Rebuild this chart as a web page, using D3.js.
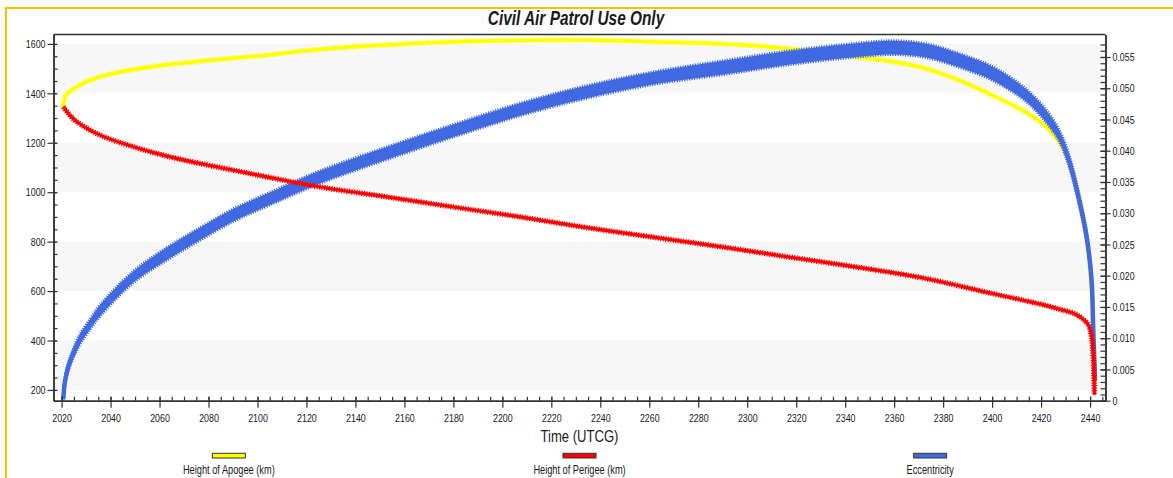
<!DOCTYPE html>
<html>
<head>
<meta charset="utf-8">
<script src="https://cdn.jsdelivr.net/npm/d3@7"></script>
<style>
  body { margin: 0; background: #fff; }
  svg { display: block; }
  text { font-family: "Liberation Sans", Arial, Helvetica, sans-serif; fill: #1a1a1a; }
</style>
</head>
<body>
<svg id="chart" width="1173" height="478"></svg>
<script>
// ---- data (time in decimal years) ----
const apogeeTime = [2020.7, 2021.4, 2024.0, 2028.8, 2030, 2040, 2060, 2080, 2100, 2125.5, 2160, 2194, 2234, 2263, 2290, 2308, 2343, 2360, 2373, 2387, 2400.5, 2414, 2422.3, 2427.7, 2431.8, 2434.5, 2437.2, 2439.3, 2440.6, 2441.3, 2441.8];
const apogeeKm   = [1345, 1385, 1413, 1440, 1447, 1478, 1512, 1533, 1551, 1578, 1600, 1612, 1616, 1608, 1600, 1589, 1550, 1527, 1500, 1451, 1390, 1322, 1263, 1197, 1116, 1021, 900, 765, 602, 440, 230];

const perigeeTime = [2020.7, 2023.5, 2026.2, 2035.7, 2049.3, 2063, 2076.6, 2090.2, 2103.8, 2125.6, 2152.8, 2180, 2207.2, 2234.4, 2263, 2290.2, 2317.5, 2344.7, 2373.3, 2400.5, 2414.1, 2422.3, 2427.7, 2433.2, 2437.2, 2439.3, 2440.6, 2441.3, 2441.8];
const perigeeKm   = [1345, 1310, 1285, 1231, 1184, 1146, 1116, 1089, 1062, 1021, 981, 940, 900, 857, 816, 778, 737, 697, 650, 589, 560, 541, 526, 510, 486, 463, 416, 335, 180];

const eccTime  = [2020.7, 2021.3, 2022.8, 2024.8, 2027.6, 2031.6, 2035.7, 2049.3, 2063, 2076.6, 2090.2, 2103.8, 2125.6, 2152.8, 2180, 2207.2, 2234.4, 2263, 2290.2, 2317.5, 2344.7, 2359.7, 2373.3, 2386.9, 2400.5, 2414.1, 2422.3, 2427.7, 2431.8, 2435.9, 2438.6, 2440.6, 2441.3, 2442];
const eccValue = [0.0002, 0.0029, 0.0055, 0.0076, 0.0099, 0.0122, 0.0144, 0.0198, 0.0235, 0.0267, 0.0297, 0.0321, 0.0358, 0.0396, 0.0432, 0.0466, 0.0494, 0.0517, 0.0533, 0.0549, 0.0561, 0.0565, 0.0560, 0.0544, 0.0523, 0.0488, 0.0454, 0.0422, 0.0379, 0.0315, 0.0262, 0.0193, 0.0113, 0.0033];
// half-swing of the short-period eccentricity oscillation
const eccSwing = [0.0002, 0.0004, 0.0006, 0.0007, 0.0008, 0.0008, 0.0009, 0.0009, 0.0010, 0.0010, 0.0010, 0.0010, 0.0010, 0.0010, 0.0010, 0.0010, 0.0010, 0.0010, 0.0011, 0.0011, 0.0011, 0.0011, 0.0011, 0.0011, 0.0011, 0.0010, 0.0010, 0.0009, 0.0009, 0.0008, 0.0007, 0.0006, 0.0004, 0.0002];

const xTicks     = d3.range(2020, 2441, 20);
const leftTicks  = [200, 400, 600, 800, 1000, 1200, 1400, 1600];
const rightTicks = [0, 0.005, 0.010, 0.015, 0.020, 0.025, 0.030, 0.035, 0.040, 0.045, 0.050, 0.055];

const seriesNames  = ["Height of Apogee (km)", "Height of Perigee (km)", "Eccentricity"];
const seriesColors = ["#FFFF00", "#FF0000", "#4169E1"];

// ---- layout ----
const svg = d3.select("#chart");
const plot = { left: 53.5, top: 34.5, right: 1105.5, bottom: 400.7 };
const squash = 0.77;   // narrow lettering

const x  = d3.scaleLinear().domain([2016.7, 2446.3]).range([plot.left, plot.right]);
const yL = d3.scaleLinear().domain([156.5, 1638]).range([plot.bottom, plot.top]);
const yR = d3.scaleLinear().domain([0, 0.0586]).range([plot.bottom, plot.top]);

// frame border
svg.append("line").attr("x1", 6).attr("y1", 8).attr("x2", 1173).attr("y2", 8)
  .attr("stroke", "#FFC000").attr("stroke-width", 2);
svg.append("line").attr("x1", 6).attr("y1", 7).attr("x2", 6).attr("y2", 478)
  .attr("stroke", "#FFC000").attr("stroke-width", 2);

// title
svg.append("text")
  .attr("transform", `translate(576,25) scale(${squash},1)`)
  .attr("text-anchor", "middle")
  .style("font-size", "20px").style("font-weight", "bold").style("font-style", "italic")
  .text("Civil Air Patrol Use Only");

// alternating horizontal bands
svg.append("g").selectAll("rect")
  .data(leftTicks.filter(t => (t / 200) % 2 === 1))
  .join("rect")
  .attr("x", plot.left).attr("width", plot.right - plot.left)
  .attr("y", d => yL(d + 200)).attr("height", d => yL(d) - yL(d + 200))
  .attr("fill", "#F7F7F7");

// curves
svg.append("clipPath").attr("id", "plotClip").append("rect")
  .attr("x", plot.left).attr("y", plot.top)
  .attr("width", plot.right - plot.left).attr("height", plot.bottom - plot.top);
const curves = svg.append("g").attr("clip-path", "url(#plotClip)");
const smooth = d3.curveCatmullRom.alpha(0.5);

function drawSeries(times, values, yScale, color, core, comb) {
  const line = d3.line().curve(smooth).x(d => x(d[0])).y(d => yScale(d[1]));
  const pts = times.map((t, i) => [t, values[i]]);
  // ragged outer edge from the short-period oscillation
  curves.append("path").attr("d", line(pts))
    .attr("fill", "none").attr("stroke", color).attr("stroke-width", comb)
    .attr("stroke-dasharray", "1.2 1.3").attr("stroke-linejoin", "round");
  curves.append("path").attr("d", line(pts))
    .attr("fill", "none").attr("stroke", color).attr("stroke-width", core)
    .attr("stroke-linejoin", "round");
}

function drawBand(times, values, swing, yScale, color) {
  const rows = times.map((t, i) => ({ t, v: values[i], s: swing[i] }));
  const area = d3.area().curve(smooth)
    .x(d => x(d.t)).y0(d => yScale(d.v - d.s)).y1(d => yScale(d.v + d.s));
  const edgeHi = d3.line().curve(smooth).x(d => x(d.t)).y(d => yScale(d.v + d.s));
  const edgeLo = d3.line().curve(smooth).x(d => x(d.t)).y(d => yScale(d.v - d.s));
  const mid = d3.line().curve(smooth).x(d => x(d.t)).y(d => yScale(d.v));
  curves.append("path").attr("d", area(rows)).attr("fill", color);
  [edgeHi, edgeLo].forEach(e => curves.append("path").attr("d", e(rows))
    .attr("fill", "none").attr("stroke", color).attr("stroke-width", 3)
    .attr("stroke-dasharray", "1.2 1.3"));
  curves.append("path").attr("d", mid(rows))
    .attr("fill", "none").attr("stroke", color).attr("stroke-width", 4.5);
}

drawSeries(apogeeTime, apogeeKm, yL, seriesColors[0], 3.2, 5.5);
drawBand(eccTime, eccValue, eccSwing, yR, seriesColors[2]);
drawSeries(perigeeTime, perigeeKm, yL, seriesColors[1], 3.2, 5.5);

// ---- axes ----
const axisColor = "#333";
function styleAxis(g) {
  g.selectAll("path.domain").attr("stroke", axisColor).attr("stroke-width", 1.5);
  g.selectAll(".tick line").attr("stroke", axisColor).attr("stroke-width", 1.2);
}

// top frame line
svg.append("line").attr("x1", plot.left).attr("x2", plot.right)
  .attr("y1", plot.top).attr("y2", plot.top)
  .attr("stroke", axisColor).attr("stroke-width", 1.5);

// bottom: minor every 5 years (inside), major every 20 years (crossing)
svg.append("g").attr("transform", `translate(0,${plot.bottom})`)
  .call(d3.axisBottom(x).tickValues(d3.range(2020, 2446, 5)).tickSize(-4).tickSizeOuter(0).tickFormat(""))
  .call(styleAxis);
const gx = svg.append("g").attr("transform", `translate(0,${plot.bottom})`)
  .call(d3.axisBottom(x).tickValues(xTicks).tickSize(7).tickSizeOuter(0).tickPadding(6).tickFormat(d3.format("d")))
  .call(styleAxis);
gx.selectAll(".tick line").attr("y1", -4);
gx.selectAll(".tick text").style("font-size", "11.5px").attr("fill", "#1a1a1a")
  .attr("transform", `scale(${squash},1)`);

// left: minor every 50 km, major every 200 km
svg.append("g").attr("transform", `translate(${plot.left},0)`)
  .call(d3.axisLeft(yL).tickValues(d3.range(200, 1601, 50)).tickSize(-4).tickSizeOuter(0).tickFormat(""))
  .call(styleAxis);
const gl = svg.append("g").attr("transform", `translate(${plot.left},0)`)
  .call(d3.axisLeft(yL).tickValues(leftTicks).tickSize(6).tickSizeOuter(0).tickPadding(2).tickFormat(d3.format("d")))
  .call(styleAxis);
gl.selectAll(".tick line").attr("x1", 3);
gl.selectAll(".tick text").style("font-size", "11.5px").attr("fill", "#1a1a1a")
  .attr("x", -8 / squash).attr("transform", `scale(${squash},1)`);

// right: minor every 0.001, major every 0.005
svg.append("g").attr("transform", `translate(${plot.right},0)`)
  .call(d3.axisRight(yR).tickValues(d3.range(0, 58).map(i => i / 1000)).tickSize(-5).tickSizeOuter(0).tickFormat(""))
  .call(styleAxis);
const gr = svg.append("g").attr("transform", `translate(${plot.right},0)`)
  .call(d3.axisRight(yR).tickValues(rightTicks).tickSize(5).tickSizeOuter(0).tickPadding(2)
    .tickFormat(d => d === 0 ? "0" : d3.format(".3f")(d)))
  .call(styleAxis);
gr.selectAll(".tick line").attr("x1", -5);
gr.selectAll(".tick text").style("font-size", "11.5px").attr("fill", "#1a1a1a")
  .attr("x", 7 / squash).attr("transform", `scale(${squash},1)`);

// x axis title
svg.append("text")
  .attr("transform", `translate(${(plot.left + plot.right) / 2},442) scale(${squash},1)`)
  .attr("text-anchor", "middle").style("font-size", "17px")
  .text("Time (UTCG)");

// ---- legend ----
const slot = (plot.right - plot.left) / seriesNames.length;
const legend = svg.append("g").selectAll("g").data(seriesNames).join("g")
  .attr("transform", (d, i) => `translate(${plot.left + slot * (i + 0.5)},0)`);
legend.append("rect")
  .attr("x", -16.5).attr("y", 453.3).attr("width", 33).attr("height", 4.7)
  .attr("fill", (d, i) => seriesColors[i]).attr("stroke", "#333").attr("stroke-width", 1);
legend.append("text")
  .attr("transform", `translate(0,474) scale(${squash},1)`)
  .attr("text-anchor", "middle").style("font-size", "12px")
  .text(d => d);
</script>
</body>
</html>
